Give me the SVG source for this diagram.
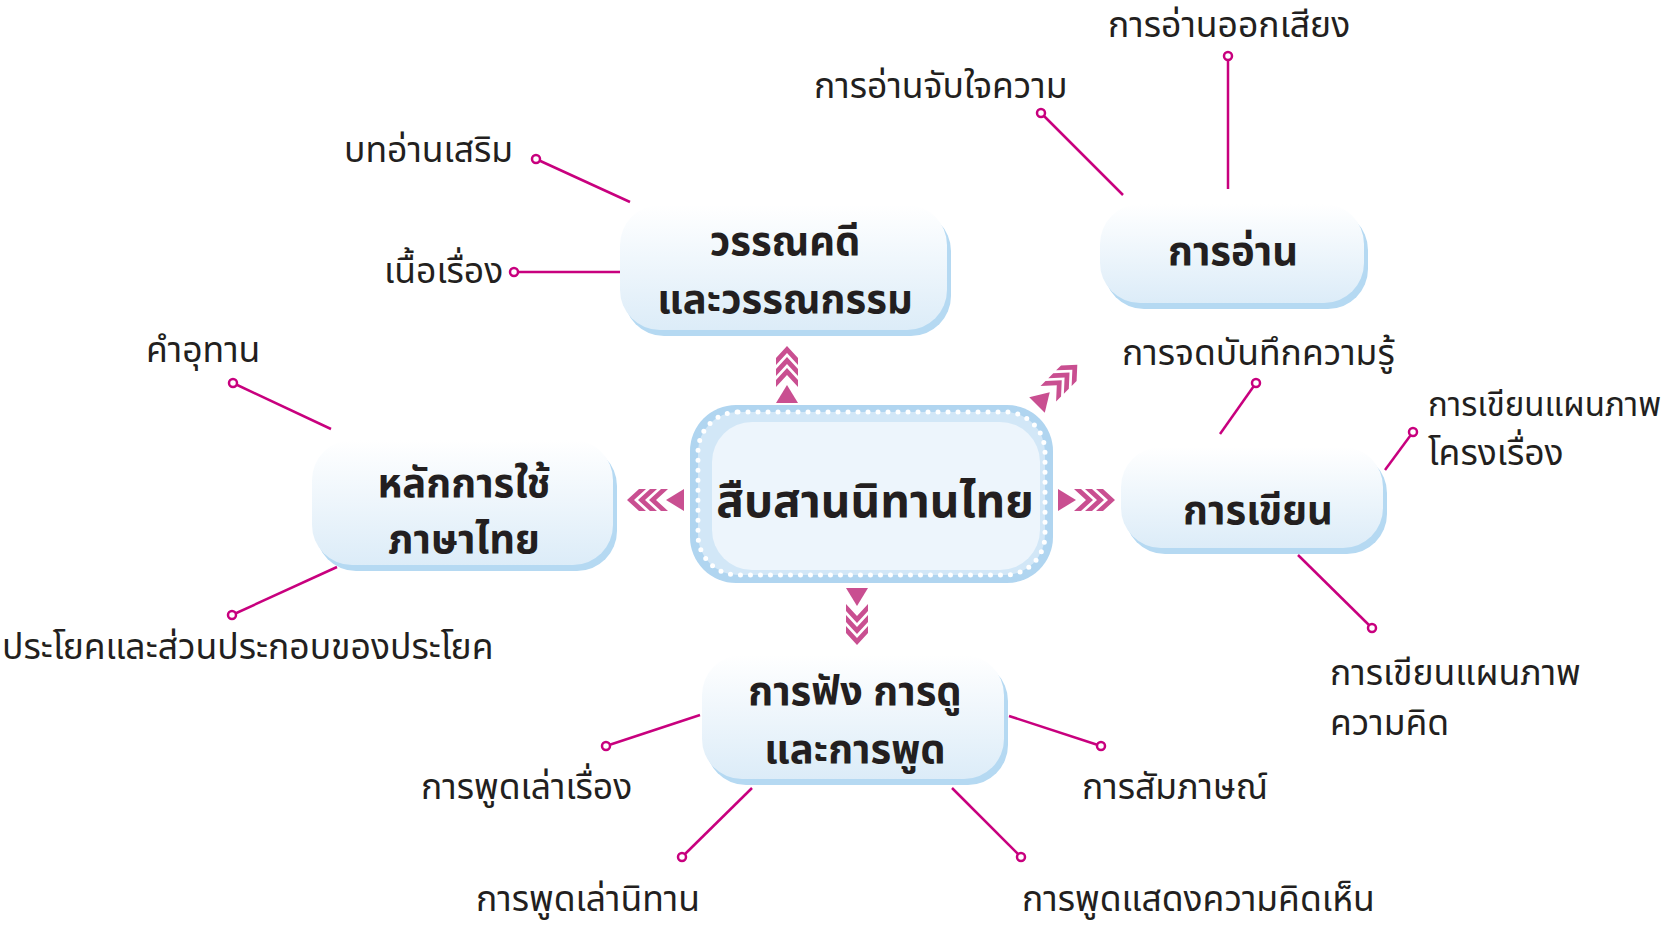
<svg xmlns="http://www.w3.org/2000/svg" xmlns:xlink="http://www.w3.org/1999/xlink" width="1671" height="928" viewBox="0 0 1671 928">
<style>
.lbl{font-family:"Noto Sans Thai","Noto Sans","DejaVu Sans",sans-serif;font-size:35.5px;fill:#231f20}
.nd{font-family:"Noto Sans Thai","Noto Sans","DejaVu Sans",sans-serif;font-size:40px;font-weight:bold;fill:#231f20;text-anchor:middle}
.ctr{font-family:"Noto Sans Thai","Noto Sans","DejaVu Sans",sans-serif;font-size:46px;font-weight:bold;fill:#231f20;text-anchor:middle}
.shd{fill:#b5d9f2}
.box{fill:url(#g)}
.ln{stroke:#c8007e;stroke-width:2.5;fill:none}
.dot{fill:#fff;stroke:#c8007e;stroke-width:2.5}
.ar{fill:#c94f91}
</style>
<defs>
<linearGradient id="g" x1="0" y1="0" x2="0" y2="1">
<stop offset="0" stop-color="#ffffff"/>
<stop offset="1" stop-color="#dcecf8"/>
</linearGradient>
<g id="arr">
<polygon class="ar" points="0,-11 18,0 0,11"/>
<polygon class="ar" points="16,-11 23,-11 35,0 23,11 16,11 28,0"/>
<polygon class="ar" points="27,-11 34,-11 46,0 34,11 27,11 39,0"/>
<polygon class="ar" points="38,-11 45,-11 57,0 45,11 38,11 50,0"/>
</g>
</defs>
<rect width="1671" height="928" fill="#fff"/>
<g id="connectors">
<line class="ln" x1="536" y1="159" x2="630" y2="202"/>
<line class="ln" x1="514" y1="272" x2="620" y2="272"/>
<line class="ln" x1="233" y1="383" x2="331" y2="429"/>
<line class="ln" x1="232" y1="615" x2="337" y2="567"/>
<line class="ln" x1="1041" y1="113" x2="1123" y2="195"/>
<line class="ln" x1="1228" y1="56" x2="1228" y2="189"/>
<line class="ln" x1="1256" y1="383" x2="1220" y2="434"/>
<line class="ln" x1="1413" y1="432" x2="1385" y2="470"/>
<line class="ln" x1="1372" y1="628" x2="1298" y2="555"/>
<line class="ln" x1="606" y1="746" x2="700" y2="715"/>
<line class="ln" x1="682" y1="857" x2="752" y2="788"/>
<line class="ln" x1="1101" y1="746" x2="1009" y2="716"/>
<line class="ln" x1="1021" y1="857" x2="952" y2="788"/>
<circle class="dot" cx="536" cy="159" r="4"/>
<circle class="dot" cx="514" cy="272" r="4"/>
<circle class="dot" cx="233" cy="383" r="4"/>
<circle class="dot" cx="232" cy="615" r="4"/>
<circle class="dot" cx="1041" cy="113" r="4"/>
<circle class="dot" cx="1228" cy="56" r="4"/>
<circle class="dot" cx="1256" cy="383" r="4"/>
<circle class="dot" cx="1413" cy="432" r="4"/>
<circle class="dot" cx="1372" cy="628" r="4"/>
<circle class="dot" cx="606" cy="746" r="4"/>
<circle class="dot" cx="682" cy="857" r="4"/>
<circle class="dot" cx="1101" cy="746" r="4"/>
<circle class="dot" cx="1021" cy="857" r="4"/>
<use xlink:href="#arr" transform="translate(1058,500)"/>
<use xlink:href="#arr" transform="translate(684,500) rotate(180)"/>
<use xlink:href="#arr" transform="translate(787,403) rotate(-90)"/>
<use xlink:href="#arr" transform="translate(857,588) rotate(90)"/>
<use xlink:href="#arr" transform="translate(1037,405) rotate(-45)"/>
</g>
<g id="center">
<rect x="690" y="405" width="363" height="178" rx="46" fill="#b0d5f0"/>
<rect x="698" y="412" width="347" height="163" rx="40" fill="#d2e7f7" stroke="#fff" stroke-width="5" stroke-dasharray="0 10" stroke-linecap="round"/>
<rect x="712" y="422" width="328" height="148" rx="40" fill="#edf5fc"/>
<text class="ctr" x="875" y="517">สืบสานนิทานไทย</text>
</g>
<g id="n-literature">
<rect class="shd" x="624" y="211" width="327" height="125" rx="40"/>
<rect class="box" x="620" y="205" width="327" height="125" rx="40"/>
<text class="nd" x="785" y="255">วรรณคดี</text>
<text class="nd" x="785" y="313">และวรรณกรรม</text>
</g>
<g id="n-reading">
<rect class="shd" x="1104" y="210" width="264" height="99" rx="40"/>
<rect class="box" x="1100" y="204" width="264" height="99" rx="40"/>
<text class="nd" x="1233" y="265">การอ่าน</text>
</g>
<g id="n-grammar">
<rect class="shd" x="316" y="446" width="301" height="125" rx="40"/>
<rect class="box" x="312" y="440" width="301" height="125" rx="40"/>
<text class="nd" x="464" y="497">หลักการใช้</text>
<text class="nd" x="464" y="553">ภาษาไทย</text>
</g>
<g id="n-writing">
<rect class="shd" x="1125" y="453" width="262" height="101" rx="40"/>
<rect class="box" x="1121" y="447" width="262" height="101" rx="40"/>
<text class="nd" x="1258" y="524">การเขียน</text>
</g>
<g id="n-listening">
<rect class="shd" x="706" y="661" width="302" height="124" rx="40"/>
<rect class="box" x="702" y="655" width="302" height="124" rx="40"/>
<text class="nd" x="855" y="705">การฟัง การดู</text>
<text class="nd" x="855" y="763">และการพูด</text>
</g>
<g id="labels">
<text class="lbl" x="1108" y="37">การอ่านออกเสียง</text>
<text class="lbl" x="814" y="98">การอ่านจับใจความ</text>
<text class="lbl" x="344" y="162">บทอ่านเสริม</text>
<text class="lbl" x="384" y="283">เนื้อเรื่อง</text>
<text class="lbl" x="146" y="362">คำอุทาน</text>
<text class="lbl" x="2" y="659">ประโยคและส่วนประกอบของประโยค</text>
<text class="lbl" x="1122" y="365">การจดบันทึกความรู้</text>
<text class="lbl" x="1428" y="416" style="font-size:33px">การเขียนแผนภาพ</text>
<text class="lbl" x="1428" y="465">โครงเรื่อง</text>
<text class="lbl" x="1330" y="685">การเขียนแผนภาพ</text>
<text class="lbl" x="1330" y="735">ความคิด</text>
<text class="lbl" x="421" y="799">การพูดเล่าเรื่อง</text>
<text class="lbl" x="476" y="911">การพูดเล่านิทาน</text>
<text class="lbl" x="1082" y="799">การสัมภาษณ์</text>
<text class="lbl" x="1022" y="911">การพูดแสดงความคิดเห็น</text>
</g>
</svg>
